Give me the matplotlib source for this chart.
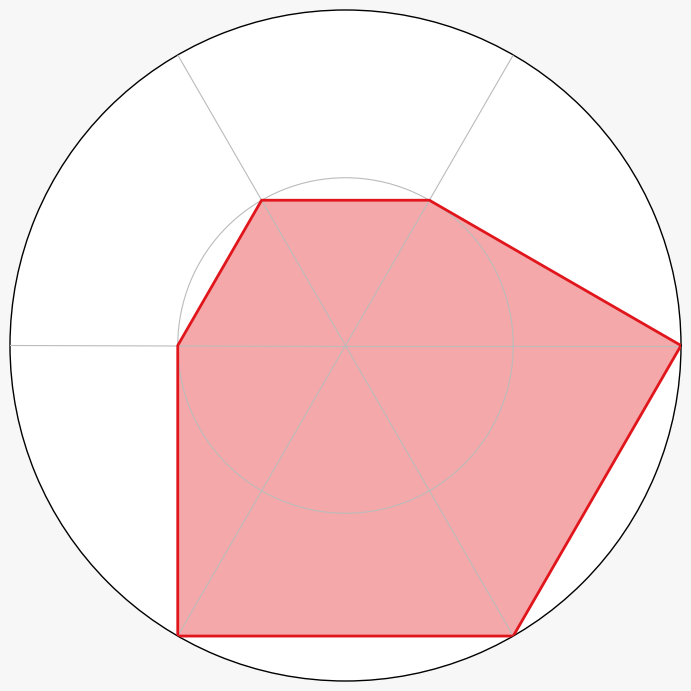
import numpy as np
import matplotlib
matplotlib.use("Agg")
import matplotlib.pyplot as plt

# six spokes, no labels in the original
axes_names = ["A", "B", "C", "D", "E", "F"]
values = [2, 1, 1, 1, 2, 2]
grid_levels = [1, 2]
r_max = 2

angles = np.arange(len(axes_names)) * 2 * np.pi / len(axes_names)
a_closed = np.append(angles, angles[0])
v_closed = np.append(values, values[0])

fig = plt.figure(figsize=(6.91, 6.91), dpi=100)
fig.patch.set_facecolor("#f7f7f7")
ax = fig.add_axes([10 / 691, 10 / 691, 671 / 691, 671 / 691], projection="polar")
ax.set_facecolor("white")

ax.fill(a_closed, v_closed, color="#e8262a", alpha=0.4, linewidth=0, zorder=2)
ax.plot(a_closed, v_closed, color="#e0161c", linewidth=2, zorder=3)

ax.set_ylim(0, r_max)
ax.set_xticks(angles)
ax.set_xticklabels([])
ax.set_yticks(grid_levels[:-1])
ax.set_yticklabels([])
ax.set_axisbelow(False)  # grid shows on top of the fill
ax.grid(True, color="#bbbbbb", linewidth=0.8)
ax.spines["polar"].set_color("black")
ax.spines["polar"].set_linewidth(1)

fig.savefig("out.png", dpi=100, facecolor=fig.get_facecolor())
